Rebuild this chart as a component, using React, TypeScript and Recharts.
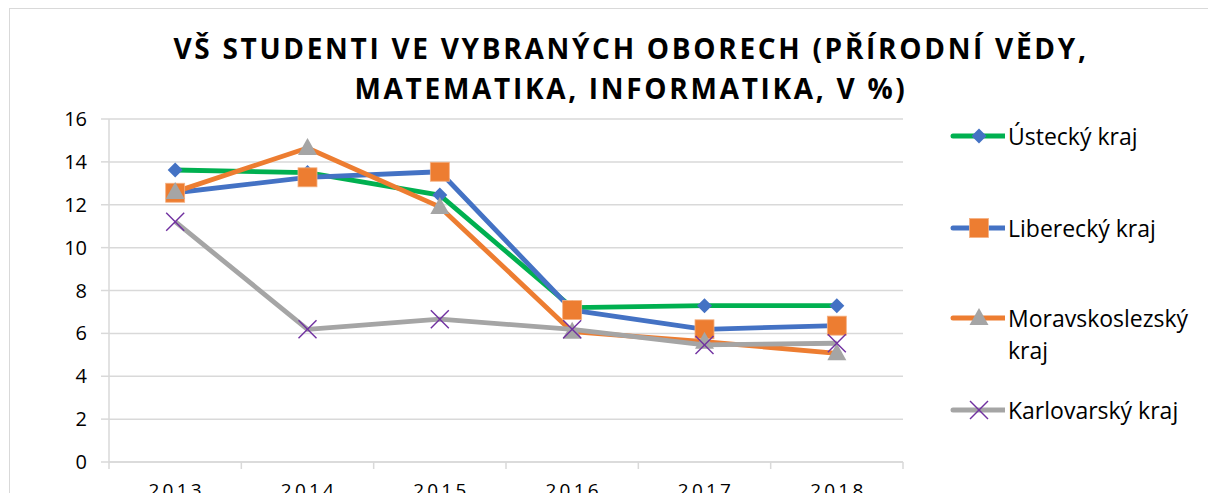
import React from "react";
import { LineChart, Line, XAxis, YAxis, CartesianGrid, Legend } from "recharts";

// values (percent)
const years = ["2013", "2014", "2015", "2016", "2017", "2018"];
const ustecky = [13.62, 13.5, 12.45, 7.2, 7.29, 7.29];
const liberecky = [12.56, 13.28, 13.54, 7.09, 6.19, 6.36];
const moravskoslezsky = [12.6, 14.65, 11.9, 6.08, 5.61, 5.07];
const karlovarsky = [11.21, 6.19, 6.66, 6.19, 5.46, 5.54];
const yTicks = [0, 2, 4, 6, 8, 10, 12, 14, 16];
const xBoundaries = [0, 1, 2, 3, 4, 5, 6];

const FONT = "'Open Sans', 'Noto Sans', sans-serif";
const GRID = "#d9d9d9";

const data = years.map((y, i) => ({
  x: i + 0.5,
  year: y,
  ustecky: ustecky[i],
  liberecky: liberecky[i],
  moravskoslezsky: moravskoslezsky[i],
  karlovarsky: karlovarsky[i],
}));

const xTicks = [
  ...xBoundaries,
  ...years.map((_, i) => i + 0.5),
].sort((a, b) => a - b);

type MarkerKind = "diamond" | "square" | "triangle" | "cross";

const series: {
  key: string;
  name: string;
  line: string;
  marker: MarkerKind;
  fill: string;
}[] = [
  { key: "ustecky", name: "Ústecký kraj", line: "#00b050", marker: "diamond", fill: "#4472c4" },
  { key: "liberecky", name: "Liberecký kraj", line: "#4472c4", marker: "square", fill: "#ed7d31" },
  { key: "moravskoslezsky", name: "Moravskoslezský kraj", line: "#ed7d31", marker: "triangle", fill: "#a5a5a5" },
  { key: "karlovarsky", name: "Karlovarský kraj", line: "#a5a5a5", marker: "cross", fill: "#7030a0" },
];

function Marker({ kind, cx, cy, fill }: { kind: MarkerKind; cx: number; cy: number; fill: string }) {
  if (kind === "diamond") {
    const r = 7.5;
    return <polygon points={`${cx},${cy - r} ${cx + r},${cy} ${cx},${cy + r} ${cx - r},${cy}`} fill={fill} />;
  }
  if (kind === "square") {
    const r = 9.5;
    return <rect x={cx - r} y={cy - r} width={r * 2} height={r * 2} fill={fill} stroke="#f4b183" strokeWidth={0.8} />;
  }
  if (kind === "triangle") {
    return (
      <polygon
        points={`${cx},${cy - 10} ${cx + 9.5},${cy + 7} ${cx - 9.5},${cy + 7}`}
        fill={fill}
      />
    );
  }
  const r = 9;
  return (
    <g stroke={fill} strokeWidth={1.4}>
      <line x1={cx - r} y1={cy - r} x2={cx + r} y2={cy + r} />
      <line x1={cx - r} y1={cy + r} x2={cx + r} y2={cy - r} />
    </g>
  );
}

const XTick = (props: any) => {
  const { x, y, payload } = props;
  const v = payload.value as number;
  if (Number.isInteger(v)) {
    return <line x1={x} x2={x} y1={y} y2={y + 7} stroke={GRID} strokeWidth={1.5} />;
  }
  return (
    <text
      x={x + 1.5}
      y={y + 35}
      textAnchor="middle"
      fill="#000"
      style={{ fontFamily: FONT, fontSize: 19, letterSpacing: 3.2 }}
    >
      {years[Math.floor(v)]}
    </text>
  );
};

// legend rows: vertical centre of each entry, relative to the legend box
const legendRows = [26, 118, 208, 300];

const LegendContent = () => (
  <div style={{ position: "relative", width: 262, height: 330, fontFamily: FONT }}>
    {series.map((s, i) => (
      <div
        key={s.key}
        style={{
          position: "absolute",
          left: 0,
          top: legendRows[i] - 16,
          display: "flex",
          alignItems: "flex-start",
        }}
      >
        <svg width={62} height={32} style={{ flex: "none" }}>
          <line x1={10} x2={62} y1={16} y2={16} stroke={s.line} strokeWidth={5} strokeLinecap="round" />
          <Marker kind={s.marker} cx={36} cy={16} fill={s.fill} />
        </svg>
        <div style={{ fontSize: 23, lineHeight: "32px", color: "#000", width: 192, marginLeft: 3 }}>
          {s.name}
        </div>
      </div>
    ))}
  </div>
);

export default function App() {
  return (
    <div
      style={{
        position: "absolute",
        left: 0,
        top: 0,
        width: 1208,
        height: 493,
        overflow: "hidden",
        background: "#fff",
      }}
    >
      <div
        style={{
          position: "absolute",
          left: 9,
          top: 8,
          width: 1240,
          height: 520,
          borderTop: `1.5px solid ${GRID}`,
          borderLeft: `1.5px solid ${GRID}`,
        }}
      />
      <div
        style={{
          position: "absolute",
          left: 0,
          top: 28,
          width: 1262,
          textAlign: "center",
          fontFamily: FONT,
          fontWeight: 700,
          fontSize: 28,
          lineHeight: "40px",
          letterSpacing: 2.7,
          color: "#000",
        }}
      >
        VŠ STUDENTI VE VYBRANÝCH OBORECH (PŘÍRODNÍ VĚDY,
        <br />
        MATEMATIKA, INFORMATIKA, V %)
      </div>
      <div style={{ position: "absolute", left: 0, top: 0 }}>
        <LineChart
          width={1208}
          height={493}
          data={data}
          margin={{ top: 119, right: 305, bottom: 0, left: 0 }}
          style={{ fontFamily: FONT }}
        >
          <CartesianGrid vertical={false} stroke={GRID} strokeWidth={1.5} />
          <XAxis
            dataKey="x"
            type="number"
            domain={[0, 6]}
            ticks={xTicks}
            interval={0}
            height={31}
            axisLine={{ stroke: GRID, strokeWidth: 1.5 }}
            tickLine={false}
            tickSize={0}
            tickMargin={0}
            tick={<XTick />}
          />
          <YAxis
            width={109}
            domain={[0, 16]}
            ticks={yTicks}
            interval={0}
            axisLine={{ stroke: GRID, strokeWidth: 1.5 }}
            tickLine={{ stroke: GRID, strokeWidth: 1.5 }}
            tickSize={8}
            tickMargin={14}
            tick={{ fill: "#000", fontSize: 20, fontFamily: FONT }}
          />
          <Legend
            layout="vertical"
            align="center"
            verticalAlign="middle"
            content={<LegendContent />}
            wrapperStyle={{ position: "absolute", left: 943, top: 110, width: 262, height: 330 }}
          />
          {series.map((s) => (
            <Line
              key={s.key}
              dataKey={s.key}
              name={s.name}
              type="linear"
              stroke={s.line}
              strokeWidth={4.8}
              strokeLinejoin="round"
              isAnimationActive={false}
              dot={(p: any) => (
                <Marker key={`${s.key}-${p.index}`} kind={s.marker} cx={p.cx} cy={p.cy} fill={s.fill} />
              )}
              activeDot={false}
            />
          ))}
        </LineChart>
      </div>
    </div>
  );
}
